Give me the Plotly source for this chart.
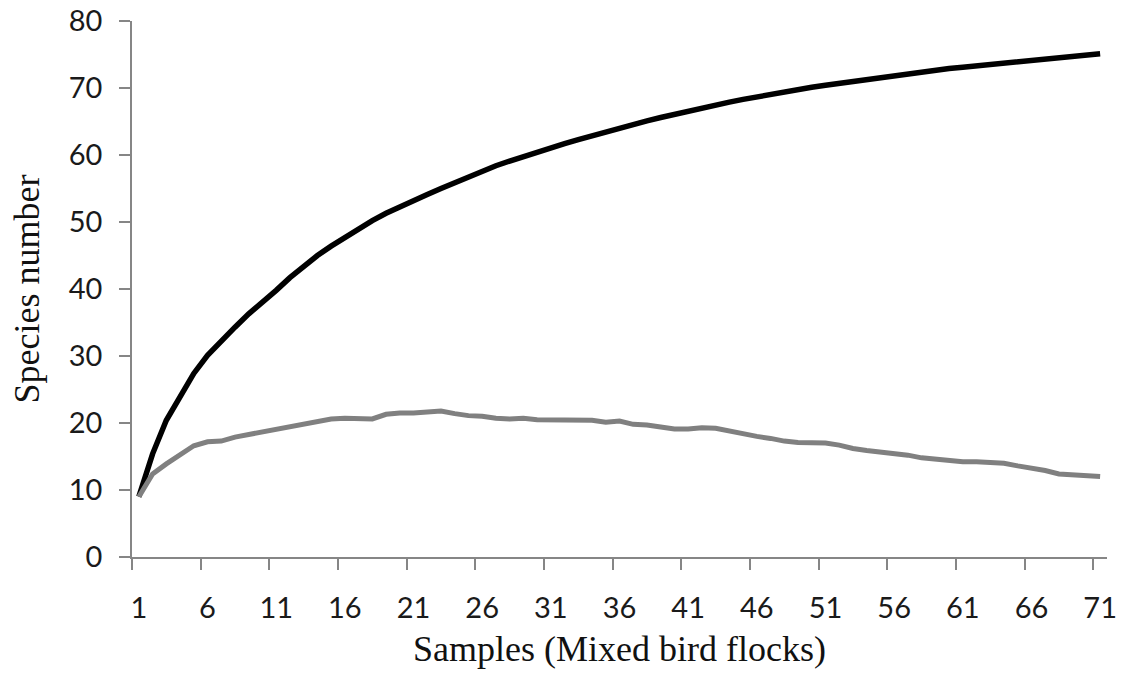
import plotly.graph_objects as go

samples = list(range(1, 72))

observed = [9.0, 15.4, 20.4, 24.1, 27.4, 30.1, 32.3, 34.3, 36.3, 38.0,
            39.8, 41.7, 43.4, 45.0, 46.4, 47.7, 49.0, 50.2, 51.3, 52.3,
            53.2, 54.1, 55.0, 55.9, 56.8, 57.6, 58.4, 59.1, 59.8, 60.4,
            61.0, 61.7, 62.3, 62.9, 63.5, 64.1, 64.6, 65.1, 65.6, 66.1,
            66.6, 67.1, 67.5, 67.9, 68.3, 68.7, 69.1, 69.5, 69.8, 70.1,
            70.4, 70.7, 71.0, 71.3, 71.6, 71.9, 72.1, 72.4, 72.6, 72.9,
            73.1, 73.3, 73.6, 73.8, 74.0, 74.2, 74.4, 74.5, 74.7, 74.9,
            75.1]

singletons = [9.0, 12.4, 13.9, 15.3, 16.6, 17.2, 17.3, 17.9, 18.3, 18.7,
              19.1, 19.5, 19.9, 20.2, 20.6, 20.7, 20.7, 20.6, 21.3, 21.5,
              21.5, 21.7, 21.8, 21.4, 21.1, 21.0, 20.7, 20.6, 20.7, 20.5,
              20.5, 20.4, 20.4, 20.4, 20.1, 20.3, 19.8, 19.7, 19.4, 19.1,
              19.1, 19.3, 19.2, 18.8, 18.3, 18.0, 17.7, 17.3, 17.1, 17.1,
              17.0, 16.7, 16.2, 15.9, 15.7, 15.5, 15.2, 14.8, 14.6, 14.4,
              14.2, 14.2, 14.1, 14.0, 13.6, 13.3, 12.9, 12.4, 12.3, 12.1,
              12.0]

x_tick_labels = [1, 6, 11, 16, 21, 26, 31, 36, 41, 46, 51, 56, 61, 66, 71]
y_tick_values = [0, 10, 20, 30, 40, 50, 60, 70, 80]

fig = go.Figure()
fig.add_trace(go.Scatter(x=samples, y=observed, mode="lines",
                         line=dict(color="#000000", width=5.5),
                         showlegend=False, hoverinfo="skip"))
fig.add_trace(go.Scatter(x=samples, y=singletons, mode="lines",
                         line=dict(color="#808080", width=5),
                         showlegend=False, hoverinfo="skip"))

axis_color = "#868686"
fig.update_layout(
    width=1135, height=675,
    margin=dict(l=132, r=28, t=21, b=118),
    paper_bgcolor="white", plot_bgcolor="white",
    font=dict(family="Lato", color="#1a1a1a"),
    xaxis=dict(
        range=[0.5, 71.5], automargin=False,
        tickmode="array", tickvals=x_tick_labels,
        ticktext=[str(v) for v in x_tick_labels],
        ticks="", ticklabelstandoff=24,
        tickfont=dict(family="Lato", size=29, color="#1a1a1a"),
        showline=True, linecolor=axis_color, linewidth=1.5,
        showgrid=False, zeroline=False,
        minor=dict(ticks="outside", tickmode="array",
                   tickvals=[v - 0.5 for v in x_tick_labels],
                   ticklen=11, tickwidth=1.5, tickcolor=axis_color,
                   showgrid=False),
        title=dict(text="Samples (Mixed bird flocks)",
                   font=dict(family="Liberation Serif", size=36, color="#111111"),
                   standoff=13),
    ),
    yaxis=dict(
        range=[0, 80], automargin=False,
        tickmode="array", tickvals=y_tick_values,
        ticks="outside", ticklen=11, tickwidth=1.5, tickcolor=axis_color,
        ticklabelstandoff=11,
        tickfont=dict(family="Lato", size=29, color="#1a1a1a"),
        showline=True, linecolor=axis_color, linewidth=1.5,
        showgrid=False, zeroline=False,
        title=dict(text="Species number",
                   font=dict(family="Liberation Serif", size=36, color="#111111"),
                   standoff=18),
    ),
)

fig.write_html("out.html", config={"displayModeBar": False},
               post_script="document.body.style.margin='0';")
